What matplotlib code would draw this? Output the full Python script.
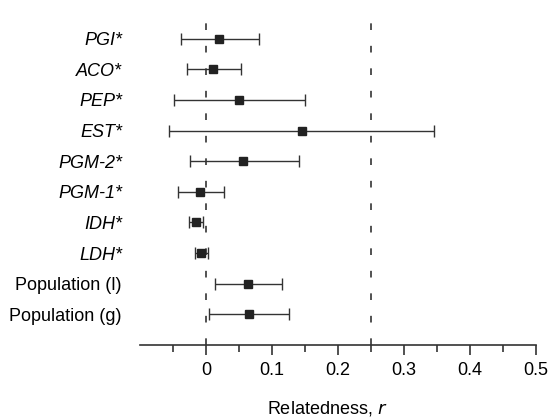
import matplotlib
matplotlib.use("Agg")
from matplotlib import pyplot as plt

plt.rcParams['font.family'] = ['Liberation Sans', 'DejaVu Sans']

# rows top to bottom
labels = ["PGI*", "ACO*", "PEP*", "EST*", "PGM-2*", "PGM-1*", "IDH*", "LDH*",
          "Population (l)", "Population (g)"]
italic = [True, True, True, True, True, True, True, True, False, False]
r_mean = [0.020, 0.011, 0.050, 0.146, 0.057, -0.009, -0.015, -0.007, 0.064, 0.066]
r_low = [-0.038, -0.029, -0.049, -0.056, -0.024, -0.043, -0.025, -0.016, 0.014, 0.005]
r_high = [0.080, 0.053, 0.150, 0.346, 0.141, 0.027, -0.004, 0.003, 0.116, 0.126]

fig = plt.figure(figsize=(5.56, 4.19), dpi=100)
ax = fig.add_axes([140 / 556, 1 - 345 / 419, (535.5 - 140) / 556, (345 - 8) / 419])

n = len(labels)
ypos = [n - i for i in range(n)]
err_lo = [m - lo for m, lo in zip(r_mean, r_low)]
err_hi = [hi - m for m, hi in zip(r_mean, r_high)]

# reference lines at r = 0 and r = 0.25
ax.axvline(0, color='#333333', lw=1.2, dashes=(4, 9.5), zorder=1)
ax.axvline(0.25, color='#333333', lw=1.2, dashes=(4, 9.5), zorder=1)

ax.errorbar(r_mean, ypos, xerr=[err_lo, err_hi], fmt='s', color='#222222',
            ecolor='#333333', elinewidth=1.0, capsize=4.5, capthick=1.0,
            markersize=5.5, zorder=3)

ax.set_xlim(-0.1, 0.5)
ax.set_ylim(0, n + 1)
ax.set_yticks(ypos)
ax.set_yticklabels(labels)
for t, it in zip(ax.get_yticklabels(), italic):
    if it:
        t.set_style('italic')
ax.tick_params(axis='y', length=0, pad=13, labelsize=13)

ax.set_xticks([0, 0.1, 0.2, 0.3, 0.4, 0.5])
ax.set_xticklabels(["0", "0.1", "0.2", "0.3", "0.4", "0.5"])
ax.set_xticks([-0.05, 0.05, 0.15, 0.25, 0.35, 0.45], minor=True)
ax.tick_params(axis='x', which='major', direction='out', length=7, width=1.2,
               color='#333333', labelsize=13, pad=5)
ax.tick_params(axis='x', which='minor', direction='out', length=5, width=1.2,
               color='#333333')

for s in ['top', 'right', 'left']:
    ax.spines[s].set_visible(False)
ax.spines['bottom'].set_linewidth(1.2)
ax.spines['bottom'].set_color('#333333')

fig.text(327 / 556, 1 - 408 / 419, "Relatedness, $\\it{r}$", ha='center',
         va='center', fontsize=13)

fig.savefig("out.png", dpi=100)
